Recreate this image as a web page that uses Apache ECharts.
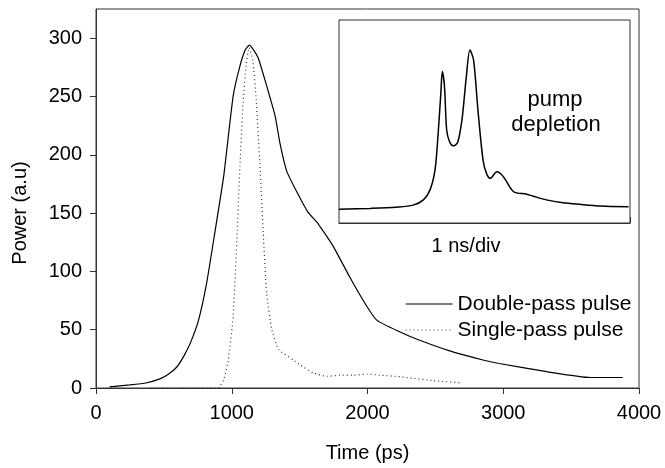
<!DOCTYPE html>
<html>
<head>
<meta charset="utf-8">
<script src="https://cdn.jsdelivr.net/npm/echarts@6/dist/echarts.min.js"></script>
<style>
  html,body{margin:0;padding:0;background:#fff;}
  #chartContain{width:665px;height:468px;}
</style>
</head>
<body>
<div id="chartContain"></div>
<script>
// main chart: double-pass pulse (solid)
var doubleTime = [100, 250, 375, 475, 535, 595, 650, 700, 755, 815, 875, 940, 1010, 1060, 1100, 1130, 1160, 1195, 1245, 1320, 1355, 1405, 1480, 1560, 1635, 1700, 1750, 1870, 1990, 2070, 2240, 2360, 2600, 2850, 2970, 3320, 3640, 3880];
var doublePower = [1, 2.6, 4.5, 8, 12, 18, 28, 40, 58, 90, 133, 181, 250, 276, 290, 294, 290, 283, 264, 233, 210, 186, 168, 151, 141, 130, 121, 95, 71, 58, 48, 42, 32, 24, 21, 14, 9, 9];
// single-pass pulse (dotted)
var singleTime = [400, 600, 900, 940, 975, 1010, 1040, 1060, 1085, 1105, 1128, 1155, 1180, 1208, 1232, 1257, 1295, 1345, 1455, 1500, 1600, 1700, 1800, 1900, 2000, 2090, 2240, 2335, 2480, 2680];
var singlePower = [0, 0, 0, 7, 24, 61, 133, 190, 247, 276, 292, 281, 247, 190, 133, 81, 50, 33, 24, 20, 13, 10, 11, 11, 12, 11, 9.7, 8.3, 6.3, 4.5];
// inset: pump depletion trace (divisions)
var insetX = [0, 0.43, 0.79, 1.02, 1.16, 1.25, 1.32, 1.36, 1.40, 1.42, 1.45, 1.48, 1.52, 1.57, 1.63, 1.69, 1.75, 1.80, 1.85, 1.91, 1.98, 2.03, 2.08, 2.17, 2.26, 2.40, 2.58, 2.67, 2.85, 3.08, 3.31, 3.59, 3.98];
var insetY = [0.34, 0.36, 0.39, 0.44, 0.57, 0.81, 1.31, 2.13, 3.20, 3.73, 3.36, 2.29, 2.00, 1.90, 1.98, 2.54, 3.60, 4.26, 4.01, 2.78, 1.55, 1.21, 1.10, 1.26, 1.14, 0.77, 0.71, 0.66, 0.57, 0.50, 0.46, 0.42, 0.40];
var xTicks = [0, 1000, 2000, 3000, 4000];
var yTicks = [0, 50, 100, 150, 200, 250, 300];
var legendNames = ['Double-pass pulse', 'Single-pass pulse'];

function pairs(xs, ys){
  var out = [];
  for(var i=0;i<xs.length;i++){
    out.push([xs[i], ys[i]]);
  }
  return out;
}

var font = 'Liberation Sans, Arial, Helvetica, sans-serif';
var lineColor = '#333';

var chart = echarts.init(document.getElementById('chartContain'));
var option = {
  animation: false,
  backgroundColor: '#fff',
  textStyle: {fontFamily: font, color: '#000'},
  grid: [
    {left: 96, right: 26, top: 9, bottom: 80, show: true, borderColor: lineColor, borderWidth: 1},
    {left: 339, top: 20, width: 291, height: 203, show: true, borderColor: lineColor, borderWidth: 1, backgroundColor: '#fff', z: 5}
  ],
  xAxis: [
    {
      type: 'value', gridIndex: 0, min: 0, max: 4000, interval: 1000,
      name: 'Time (ps)', nameLocation: 'middle', nameGap: 55,
      nameTextStyle: {fontSize: 20, color: '#000', fontFamily: font},
      axisLine: {lineStyle: {color: lineColor, width: 1}},
      axisTick: {length: 6, lineStyle: {color: lineColor}, customValues: xTicks},
      axisLabel: {fontSize: 20, color: '#000', margin: 15, fontFamily: font, customValues: xTicks,
        formatter: function(v){ return String(v); }},
      splitLine: {show: false}
    },
    {
      type: 'value', gridIndex: 1, min: 0, max: 4, interval: 1,
      axisLine: {lineStyle: {color: lineColor}},
      axisTick: {inside: true, length: 6, lineStyle: {color: lineColor}},
      axisLabel: {show: false},
      splitLine: {show: false}
    }
  ],
  yAxis: [
    {
      type: 'value', gridIndex: 0, min: 0, max: 325,
      axisLine: {show: true, lineStyle: {color: lineColor, width: 1}},
      axisTick: {show: true, length: 6, lineStyle: {color: lineColor}, customValues: yTicks},
      axisLabel: {fontSize: 20, color: '#000', margin: 14, fontFamily: font, customValues: yTicks},
      splitLine: {show: false}
    },
    {
      type: 'value', gridIndex: 1, min: 0, max: 5, interval: 1,
      axisLine: {show: true, lineStyle: {color: lineColor}},
      axisTick: {show: true, inside: true, length: 6, lineStyle: {color: lineColor}},
      axisLabel: {show: false},
      splitLine: {show: false}
    }
  ],
  legend: {
    orient: 'vertical',
    left: 400,
    top: 288,
    itemWidth: 47,
    itemHeight: 14,
    itemGap: 4,
    itemStyle: {opacity: 0},
    lineStyle: {width: 1.2},
    data: legendNames,
    textStyle: {fontSize: 21, color: '#000', fontFamily: font, lineHeight: 22}
  },
  graphic: [
    {type: 'text', x: 20, y: 213, rotation: Math.PI / 2, z: 10,
      style: {text: 'Power (a.u)', fill: '#000', fontSize: 20, fontFamily: font, align: 'center', verticalAlign: 'middle'}},
    {type: 'text', x: 555, y: 100, z: 10, style: {text: 'pump', fill: '#000', fontSize: 22, fontFamily: font, align: 'center', verticalAlign: 'middle'}},
    {type: 'text', x: 556, y: 125, z: 10, style: {text: 'depletion', fill: '#000', fontSize: 22, fontFamily: font, align: 'center', verticalAlign: 'middle'}},
    {type: 'text', x: 466, y: 246, z: 10, style: {text: '1 ns/div', fill: '#000', fontSize: 20, fontFamily: font, align: 'center', verticalAlign: 'middle'}}
  ],
  series: [
    {
      name: legendNames[0], type: 'line', xAxisIndex: 0, yAxisIndex: 0,
      symbol: 'none', smooth: 0.15,
      lineStyle: {color: '#000', width: 1.2},
      itemStyle: {color: '#000'},
      data: pairs(doubleTime, doublePower)
    },
    {
      name: legendNames[1], type: 'line', xAxisIndex: 0, yAxisIndex: 0,
      symbol: 'none', smooth: 0.15,
      lineStyle: {color: '#333', width: 1.2, type: [1, 3]},
      itemStyle: {color: '#333'},
      data: pairs(singleTime, singlePower)
    },
    {
      name: 'inset', type: 'line', xAxisIndex: 1, yAxisIndex: 1,
      symbol: 'none', smooth: 0.3, z: 6,
      lineStyle: {color: '#000', width: 1.5},
      data: pairs(insetX, insetY)
    }
  ]
};
chart.setOption(option);
</script>
</body>
</html>
